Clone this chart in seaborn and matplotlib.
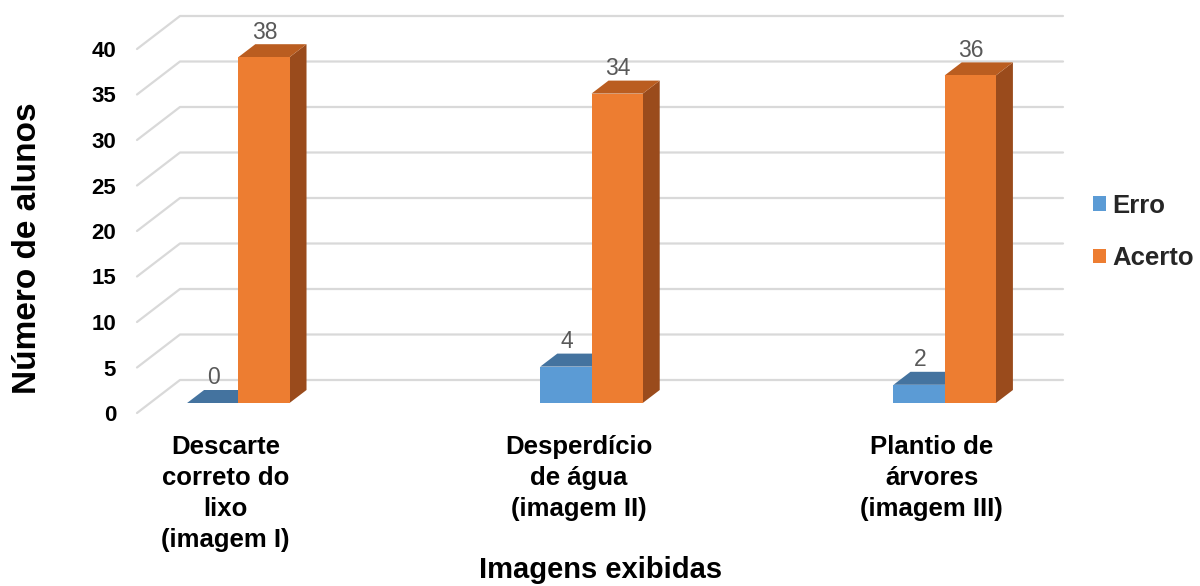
import numpy as np
import pandas as pd
import matplotlib
matplotlib.use("Agg")
import matplotlib.pyplot as plt
import seaborn as sns
from matplotlib.patches import Polygon, Patch
from matplotlib.transforms import IdentityTransform, ScaledTranslation

categories = ["Descarte\ncorreto do\nlixo\n(imagem I)",
              "Desperdício\nde água\n(imagem II)",
              "Plantio de\nárvores\n(imagem III)"]
series = ["Erro", "Acerto"]
erro = [0, 4, 2]
acerto = [38, 34, 36]
yticks = [0, 5, 10, 15, 20, 25, 30, 35, 40]

front_colors = {"Erro": "#5B9BD5", "Acerto": "#ED7D31"}
top_colors = {"Erro": "#44739F", "Acerto": "#BA5D20"}
side_colors = {"Erro": "#3A6690", "Acerto": "#9A4B1C"}

df = pd.DataFrame({"cat": categories * 2,
                   "serie": ["Erro"] * 3 + ["Acerto"] * 3,
                   "val": erro + acerto})

sns.set_theme(style="white")
plt.rcParams['font.family'] = ['Liberation Sans', 'DejaVu Sans']

W, H = 1200, 586
fig = plt.figure(figsize=(12, 5.86), dpi=100)
ax = fig.add_axes([137 / W, (H - 413) / H, 883 / W, 364 / H])
sns.barplot(data=df, x="cat", y="val", hue="serie", order=categories,
            hue_order=series, palette=[front_colors[s] for s in series],
            width=0.29, gap=0, saturation=1, legend=False, linewidth=0,
            errorbar=None, ax=ax)
ax.set_xlim(-0.25, 2.25)
ax.set_ylim(0, 40)
for s in ax.spines.values():
    s.set_visible(False)

# depth geometry (pixels)
FX, FY = 13, 10      # front plane -> bar front
BX, BY = 17, 13      # bar depth
WX, WY = 43, 33      # full wall depth

disp = IdentityTransform()
# gridlines (side wall diagonal + back wall)
for v in yticks:
    p0 = ax.transData.transform((-0.25, v))
    p1 = ax.transData.transform((2.25, v))
    xs = [p0[0], p0[0] + WX, p1[0] + WX]
    ys = [p0[1], p0[1] + WY, p1[1] + WY]
    line = plt.Line2D(xs, ys, transform=disp, color="#D9D9D9", lw=1.6,
                      zorder=0.5, clip_on=False)
    ax.add_line(line)

bars = sorted([p for p in ax.patches], key=lambda p: p.get_x())
z = 2
for p in bars:
    x, w, h = p.get_x(), p.get_width(), p.get_height()
    fc = matplotlib.colors.to_hex(p.get_facecolor())
    serie = "Erro" if fc.lower() == front_colors["Erro"].lower() else "Acerto"
    (x0, y0) = ax.transData.transform((x, 0))
    (x1, y1) = ax.transData.transform((x + w, h))
    side = Polygon([(x1 + FX, y0 + FY), (x1 + FX + BX, y0 + FY + BY),
                    (x1 + FX + BX, y1 + FY + BY), (x1 + FX, y1 + FY)],
                   closed=True, transform=disp, facecolor=side_colors[serie],
                   edgecolor="none", zorder=z, clip_on=False)
    top = Polygon([(x0 + FX, y1 + FY), (x1 + FX, y1 + FY),
                   (x1 + FX + BX, y1 + FY + BY), (x0 + FX + BX, y1 + FY + BY)],
                  closed=True, transform=disp, facecolor=top_colors[serie],
                  edgecolor="none", zorder=z + 0.1, clip_on=False)
    ax.add_artist(side)
    ax.add_artist(top)
    p.set_transform(ax.transData + ScaledTranslation(FX / 100, FY / 100, fig.dpi_scale_trans))
    p.set_zorder(z + 0.2)
    p.set_clip_on(False)
    z += 1
    ax.annotate(f"{h:g}", xy=(x + w / 2, h), xytext=(FX + 1, 35),
                textcoords="offset pixels", ha="center", va="center",
                fontsize=16.5, color="#595959", annotation_clip=False,
                zorder=20)

ax.set_yticks(yticks)
ax.set_yticklabels([str(t) for t in yticks], fontsize=16, fontweight="bold",
                   color="black")
ax.tick_params(axis="y", length=0, pad=15)
ax.tick_params(axis="x", length=0, pad=16)
ax.set_xticks(range(len(categories)))
ax.set_xticklabels(categories, fontsize=18.5, fontweight="bold",
                   color="black", linespacing=1.36, va="top", ha="center")
ax.set_xlabel("")
ax.set_ylabel("")

fig.text(601 / W, 1 - 570 / H, "Imagens exibidas", ha="center", va="center",
         fontsize=21, fontweight="bold", color="black")
fig.text(28 / W, 1 - 248 / H, "Número de alunos", ha="center", va="center",
         rotation=90, fontsize=24, fontweight="bold", color="black")

handles = [Patch(facecolor=front_colors[s], edgecolor="none", label=s) for s in series]
fig.legend(handles=handles, loc="center left",
           bbox_to_anchor=(1093 / W, 1 - 232 / H), frameon=False,
           prop={"size": 18.5, "weight": "bold"}, handlelength=0.5,
           handleheight=0.5, handletextpad=0.25, labelspacing=1.1,
           borderpad=0, borderaxespad=0)

fig.savefig("out.png", dpi=100)
